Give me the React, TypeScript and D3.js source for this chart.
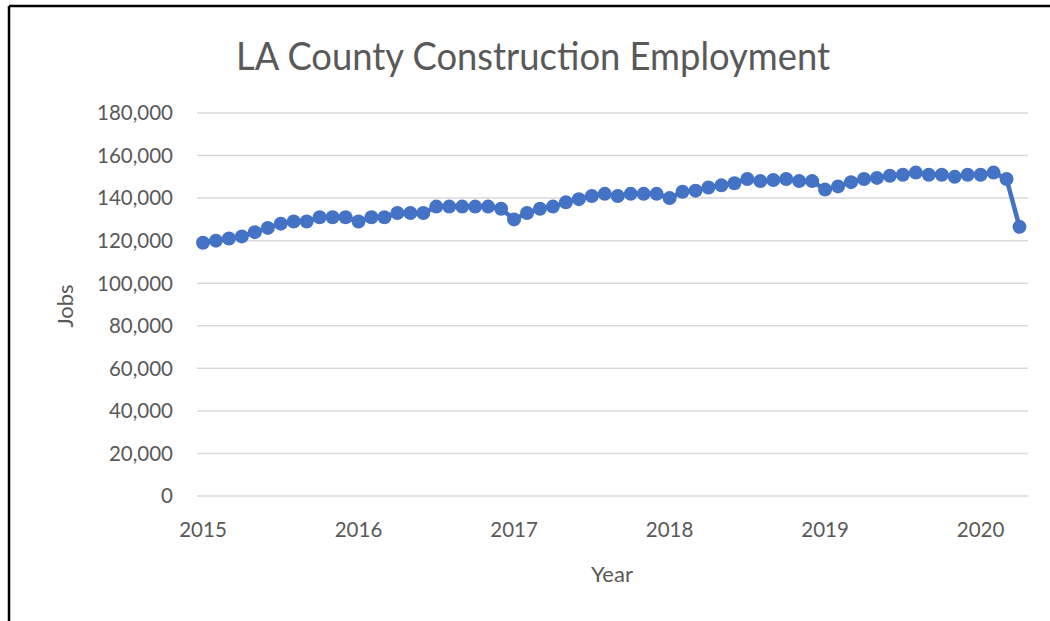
import React from "react";
import * as d3 from "d3";

const title = "LA County Construction Employment";
const xAxisTitle = "Year";
const yAxisTitle = "Jobs";

// Monthly employment, Jan 2015 – Apr 2020
const jobs2015 = [119000, 120000, 121000, 122000, 124000, 126000, 128000, 129000, 129000, 131000, 131000, 131000];
const jobs2016 = [129000, 131000, 131000, 133000, 133000, 133000, 136000, 136000, 136000, 136000, 136000, 135000];
const jobs2017 = [130000, 133000, 135000, 136000, 138000, 139500, 141000, 142000, 141000, 142000, 142000, 142000];
const jobs2018 = [140000, 143000, 143500, 145000, 146000, 147000, 149000, 148000, 148500, 149000, 148000, 148000];
const jobs2019 = [144000, 145500, 147500, 149000, 149500, 150500, 151000, 152000, 151000, 151000, 150000, 151000];
const jobs2020 = [151000, 152000, 149000, 126500];

const yearLabels = ["2015", "2016", "2017", "2018", "2019", "2020"];
const yTicks = [0, 20000, 40000, 60000, 80000, 100000, 120000, 140000, 160000, 180000];

const values = [...jobs2015, ...jobs2016, ...jobs2017, ...jobs2018, ...jobs2019, ...jobs2020];

const W = 1050;
const H = 621;
const FONT = "Lato, 'Open Sans', sans-serif";
const TEXT = "#595959";
const BLUE = "#4472C4";

export default function App() {
  const x = d3.scaleLinear().domain([0, 63]).range([203, 1019.5]);
  const y = d3.scaleLinear().domain([0, 180000]).range([496, 113]);
  const fmt = d3.format(",");
  const line = d3
    .line<number>()
    .x((_, i) => x(i))
    .y((d) => y(d));

  return (
    <svg
      width={W}
      height={H}
      style={{ position: "absolute", left: 0, top: 0, background: "#fff" }}
      fontFamily={FONT}
    >
      <rect x={0} y={0} width={W} height={H} fill="#fff" />
      {/* frame */}
      <line x1={9} x2={W} y1={6} y2={6} stroke="#000" strokeWidth={2.5} />
      <line x1={9} x2={9} y1={6} y2={H} stroke="#000" strokeWidth={2.5} />

      <text
        x={533}
        y={70}
        textAnchor="middle"
        fontSize={38}
        fill={TEXT}
        textLength={594}
        lengthAdjust="spacingAndGlyphs"
      >
        {title}
      </text>

      {yTicks.map((t) => (
        <g key={t}>
          <line x1={197} x2={1028} y1={y(t)} y2={y(t)} stroke="#d9d9d9" strokeWidth={1.5} />
          <text x={173} y={y(t)} dy="0.36em" textAnchor="end" fontSize={20.5} fill={TEXT}>
            {fmt(t)}
          </text>
        </g>
      ))}

      {yearLabels.map((lab, i) => (
        <text key={lab} x={x(i * 12)} y={537} textAnchor="middle" fontSize={20.5} fill={TEXT}>
          {lab}
        </text>
      ))}

      <text x={612} y={582} textAnchor="middle" fontSize={22} fill={TEXT}>
        {xAxisTitle}
      </text>
      <text
        transform={`translate(73, 306) rotate(-90)`}
        textAnchor="middle"
        fontSize={22}
        fill={TEXT}
      >
        {yAxisTitle}
      </text>

      <path d={line(values) || ""} fill="none" stroke={BLUE} strokeWidth={4.5} strokeLinejoin="round" />
      {values.map((v, i) => (
        <circle key={i} cx={x(i)} cy={y(v)} r={7} fill={BLUE} />
      ))}
    </svg>
  );
}
